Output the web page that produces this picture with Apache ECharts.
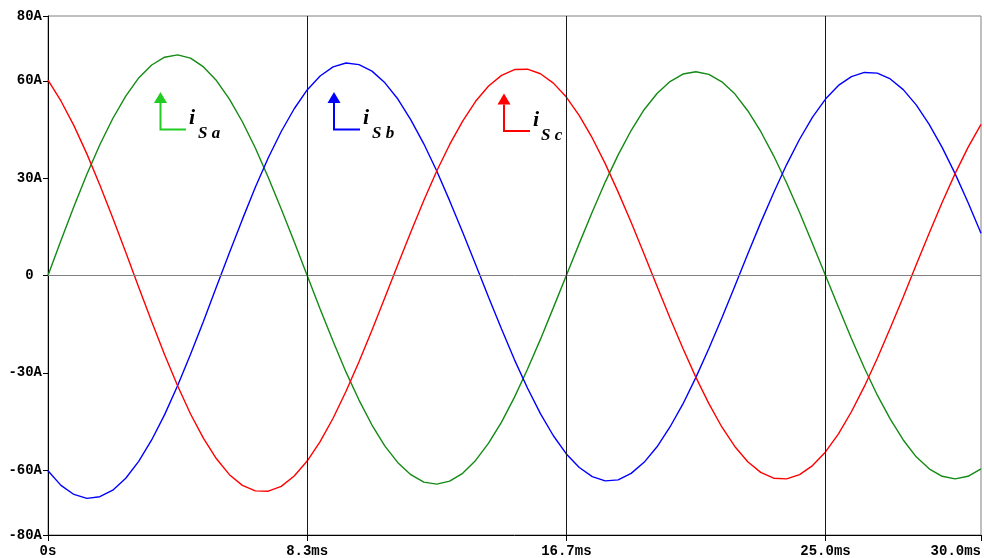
<!DOCTYPE html>
<html>
<head>
<meta charset="utf-8">
<script src="https://cdn.jsdelivr.net/npm/echarts@6/dist/echarts.min.js"></script>
<style>
  html, body { margin: 0; padding: 0; background: #ffffff; }
  #chart { width: 984px; height: 558px; }
</style>
</head>
<body>
<div id="chart"></div>
<script>
// Sample instants (ms) and the three supply phase currents (A)
const timeMs = [0, 0.4167, 0.8333, 1.25, 1.6667, 2.0833, 2.5, 2.9167, 3.3333, 3.75,
  4.1667, 4.5833, 5, 5.4167, 5.8333, 6.25, 6.6667, 7.0833, 7.5, 7.9167,
  8.3333, 8.75, 9.1667, 9.5833, 10, 10.4167, 10.8333, 11.25, 11.6667, 12.0833,
  12.5, 12.9167, 13.3333, 13.75, 14.1667, 14.5833, 15, 15.4167, 15.8333, 16.25,
  16.6667, 17.0833, 17.5, 17.9167, 18.3333, 18.75, 19.1667, 19.5833, 20, 20.4167,
  20.8333, 21.25, 21.6667, 22.0833, 22.5, 22.9167, 23.3333, 23.75, 24.1667, 24.5833,
  25, 25.4167, 25.8333, 26.25, 26.6667, 27.0833, 27.5, 27.9167, 28.3333, 28.75,
  29.1667, 29.5833, 30];

const iSa = [0, 10.8, 21.3, 31.2, 40.3, 48.4, 55.3, 60.9, 64.9, 67.3,
  68.0, 67.0, 64.3, 60.1, 54.4, 47.4, 39.3, 30.2, 20.5, 10.4,
  0, -10.3, -20.3, -29.8, -38.4, -46.1, -52.6, -57.7, -61.4, -63.7,
  -64.3, -63.4, -61.0, -57.0, -51.7, -45.2, -37.5, -28.9, -19.7, -9.9,
  0, 9.9, 19.6, 28.8, 37.2, 44.7, 51.1, 56.1, 59.8, 62.1,
  62.8, 62.0, 59.7, 56.0, 50.8, 44.4, 36.9, 28.5, 19.4, 9.8,
  0, -9.8, -19.4, -28.5, -36.9, -44.3, -50.7, -55.9, -59.6, -61.9,
  -62.7, -61.9, -59.6];

const iSb = [-60.2, -64.7, -67.5, -68.7, -68.2, -66.2, -62.5, -57.3, -50.7, -42.9,
  -34.0, -24.3, -14.1, -3.5, 7.0, 17.3, 27.2, 36.3, 44.4, 51.4,
  57.2, 61.5, 64.3, 65.5, 65.0, 63.0, 59.4, 54.4, 48.0, 40.6,
  32.2, 23.0, 13.3, 3.4, -6.7, -16.5, -26.0, -34.7, -42.6, -49.4,
  -55.0, -59.2, -62.0, -63.3, -63.0, -61.0, -57.6, -52.8, -46.7, -39.6,
  -31.4, -22.5, -13.1, -3.3, 6.6, 16.3, 25.5, 34.2, 42.0, 48.8,
  54.4, 58.6, 61.3, 62.6, 62.4, 60.6, 57.3, 52.6, 46.6, 39.5,
  31.4, 22.5, 13.0];

const iSc = [60.2, 53.8, 46.2, 37.5, 27.9, 17.7, 7.2, -3.6, -14.2, -24.4,
  -34.0, -42.7, -50.2, -56.5, -61.4, -64.7, -66.4, -66.5, -65.0, -61.8,
  -57.2, -51.2, -44.0, -35.7, -26.6, -16.9, -6.8, 3.4, 13.4, 23.1,
  32.2, 40.4, 47.6, 53.7, 58.4, 61.7, 63.5, 63.6, 62.2, 59.3,
  55.0, 49.3, 42.4, 34.5, 25.7, 16.4, 6.6, -3.3, -13.1, -22.5,
  -31.4, -39.5, -46.7, -52.7, -57.4, -60.7, -62.5, -62.7, -61.4, -58.6,
  -54.4, -48.8, -42.0, -34.2, -25.5, -16.2, -6.6, 3.3, 13.0, 22.5,
  31.4, 39.5, 46.6];

// Axis ticks and their labels
const xTicks = [0, 25 / 3, 50 / 3, 25, 30];
const xTickLabels = ['0s', '8.3ms', '16.7ms', '25.0ms', '30.0ms'];
const yTicks = [-80, -60, -30, 0, 30, 60, 80];
const yTickLabels = ['-80A', '-60A', '-30A', '0 ', '30A', '60A', '80A'];

const seriesNames = ['iSa', 'iSb', 'iSc'];
const subscripts = ['S a', 'S b', 'S c'];

// Styling
const traceColors = ['#138a13', '#0000ff', '#ff0000'];
const markerColors = ['#22cc22', '#0000ff', '#ff0000'];
const tickFont = { fontFamily: '"Liberation Mono", "DejaVu Sans Mono", monospace', fontWeight: 'bold', fontSize: 14, color: '#000' };

function lookupLabel(ticks, labels, v) {
  const i = ticks.findIndex(t => Math.abs(t - v) < 1e-6);
  return i >= 0 ? labels[i] : '';
}

const allSeries = [iSa, iSb, iSc].map((vals, s) => ({
  name: seriesNames[s],
  type: 'line',
  data: timeMs.map((t, k) => [t, vals[k]]),
  showSymbol: false,
  lineStyle: { color: traceColors[s], width: 1.4 },
  itemStyle: { color: traceColors[s] },
  z: 3,
  animation: false
}));

// Zero reference line and the vertical grid lines at the interior time ticks
allSeries[0].markLine = {
  silent: true,
  symbol: 'none',
  label: { show: false },
  lineStyle: { color: '#808080', width: 1, type: 'solid' },
  data: [{ yAxis: 0 }],
  animation: false
};
allSeries[1].markLine = {
  silent: true,
  symbol: 'none',
  label: { show: false },
  lineStyle: { color: '#1a1a1a', width: 1, type: 'solid' },
  data: xTicks.slice(1, -1).map(v => ({ xAxis: v })),
  animation: false
};

// Phase markers: L-shaped arrow with the current symbol
const markerAnchors = [
  { x: 160.5, tip: 92, base: 103, corner: 129.5, end: 186, ix: 189, iy: 118, sx: 198, sy: 134 },
  { x: 334, tip: 92, base: 103, corner: 129.5, end: 360, ix: 363, iy: 118, sx: 372, sy: 134 },
  { x: 504, tip: 93.5, base: 104.5, corner: 131, end: 530, ix: 533, iy: 120, sx: 541, sy: 136 }
];

const graphics = [];
markerAnchors.forEach((m, s) => {
  graphics.push({
    type: 'polyline',
    shape: { points: [[m.x, m.base], [m.x, m.corner], [m.end, m.corner]] },
    style: { stroke: markerColors[s], lineWidth: 2, fill: null }
  });
  graphics.push({
    type: 'polygon',
    shape: { points: [[m.x, m.tip], [m.x - 6.5, m.base], [m.x + 6.5, m.base]] },
    style: { fill: markerColors[s] }
  });
  graphics.push({
    type: 'text',
    x: m.ix, y: m.iy,
    style: {
      text: 'i', fill: '#000',
      fontFamily: '"Liberation Serif", "DejaVu Serif", serif',
      fontStyle: 'italic', fontWeight: 'bold', fontSize: 22,
      verticalAlign: 'middle'
    }
  });
  graphics.push({
    type: 'text',
    x: m.sx, y: m.sy,
    style: {
      text: subscripts[s], fill: '#000',
      fontFamily: '"Liberation Serif", "DejaVu Serif", serif',
      fontStyle: 'italic', fontWeight: 'bold', fontSize: 17,
      verticalAlign: 'middle'
    }
  });
});

const chart = echarts.init(document.getElementById('chart'), null, { renderer: 'canvas' });
chart.setOption({
  backgroundColor: '#ffffff',
  animation: false,
  grid: {
    left: 48, right: 2, top: 16, bottom: 23,
    show: true, borderColor: '#808080', borderWidth: 1, backgroundColor: 'transparent'
  },
  xAxis: {
    type: 'value',
    min: 0, max: 30,
    axisLine: { show: true, onZero: false, lineStyle: { color: '#000', width: 1 } },
    axisTick: { show: true, length: 6, customValues: xTicks, lineStyle: { color: '#000' } },
    axisLabel: {
      customValues: xTicks,
      margin: 9,
      alignMaxLabel: 'right',
      ...tickFont,
      formatter: v => lookupLabel(xTicks, xTickLabels, v)
    },
    splitLine: { show: false }
  },
  yAxis: {
    type: 'value',
    min: -80, max: 80,
    axisLine: { show: true, lineStyle: { color: '#000', width: 1 } },
    axisTick: { show: true, length: 5, customValues: yTicks, lineStyle: { color: '#000' } },
    axisLabel: {
      customValues: yTicks,
      margin: 6,
      ...tickFont,
      formatter: v => lookupLabel(yTicks, yTickLabels, v)
    },
    splitLine: { show: false }
  },
  series: allSeries,
  graphic: graphics
});
</script>
</body>
</html>
